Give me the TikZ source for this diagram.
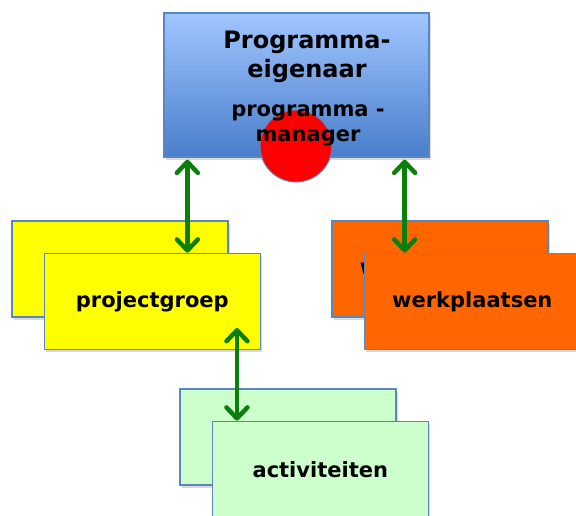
\documentclass[tikz,border=0pt]{standalone}
\usepackage{fontspec}
\setmainfont{DejaVu Sans}
\definecolor{kaderblauw}{HTML}{5B87C0}
\definecolor{lichtblauw}{HTML}{A0C6FF}
\definecolor{donkerblauw}{HTML}{4A7ECB}
\definecolor{pijlgroen}{HTML}{0A800A}
\definecolor{geel}{HTML}{FFFF00}
\definecolor{oranje}{HTML}{FF6600}
\definecolor{lichtgroen}{HTML}{CCFFCC}
\usetikzlibrary{arrows.meta, positioning, shadows}

\begin{document}
\begin{tikzpicture}[
    x=1pt, y=-1pt,
    kaart/.style={rectangle, draw=kaderblauw, line width=1.3pt,
                  minimum width=216pt, minimum height=96pt,
                  text centered, font=\bfseries\fontsize{21}{25}\selectfont,
                  drop shadow={opacity=0.3, shadow xshift=2pt, shadow yshift=-3pt}},
    pijl/.style={{Straight Barb[round, length=11pt, width=21pt]}-{Straight Barb[round, length=11pt, width=21pt]},
                 line width=4.5pt, pijlgroen, line cap=round}
  ]
  \useasboundingbox (0,0) rectangle (576,516);

  % programma-eigenaar bovenaan
  \node[rectangle, draw=kaderblauw, line width=1.3pt,
        top color=lichtblauw, bottom color=donkerblauw,
        minimum width=265pt, minimum height=144pt,
        drop shadow={opacity=0.3, shadow xshift=2pt, shadow yshift=-3pt}]
    (eigenaar) at (296.5,85) {};
  \node[circle, fill=red, draw=kaderblauw, line width=1pt, minimum size=72pt]
    (stip) at (296,146) {};
  \node[align=center, font=\bfseries\fontsize{24}{29}\selectfont]
    (titel) at (307,57) {Programma-\\eigenaar};
  \node[align=center, font=\bfseries\fontsize{21}{25}\selectfont]
    (manager) at (308,125) {programma -\\manager};

  % kaarten
  \node[kaart, fill=geel] (pgachter) at (120,269) {projectgroep};
  \node[kaart, fill=geel, below right=-65pt and -185pt of pgachter] (pgvoor) {projectgroep};
  \node[kaart, fill=oranje] (wpachter) at (440,269) {werkplaatsen};
  \node[kaart, fill=oranje, below right=-65pt and -185pt of wpachter] (wpvoor) {werkplaatsen};
  \node[kaart, fill=lichtgroen] (actachter) at (288,437) {activiteiten};
  \node[kaart, fill=lichtgroen, below right=-65pt and -185pt of actachter] (actvoor) {activiteiten};

  % verbindingen
  \draw[pijl] ([xshift=24pt, yshift=-2pt]eigenaar.south west)
    -- ([xshift=24pt]eigenaar.south west |- pgvoor.north);
  \draw[pijl] ([xshift=-25pt, yshift=-2pt]eigenaar.south east)
    -- ([xshift=-25pt]eigenaar.south east |- wpvoor.north);
  \draw[pijl] ([xshift=-24pt, yshift=22pt]pgvoor.south east)
    -- ([xshift=-24pt]pgvoor.south east |- actvoor.north);
\end{tikzpicture}
\end{document}
